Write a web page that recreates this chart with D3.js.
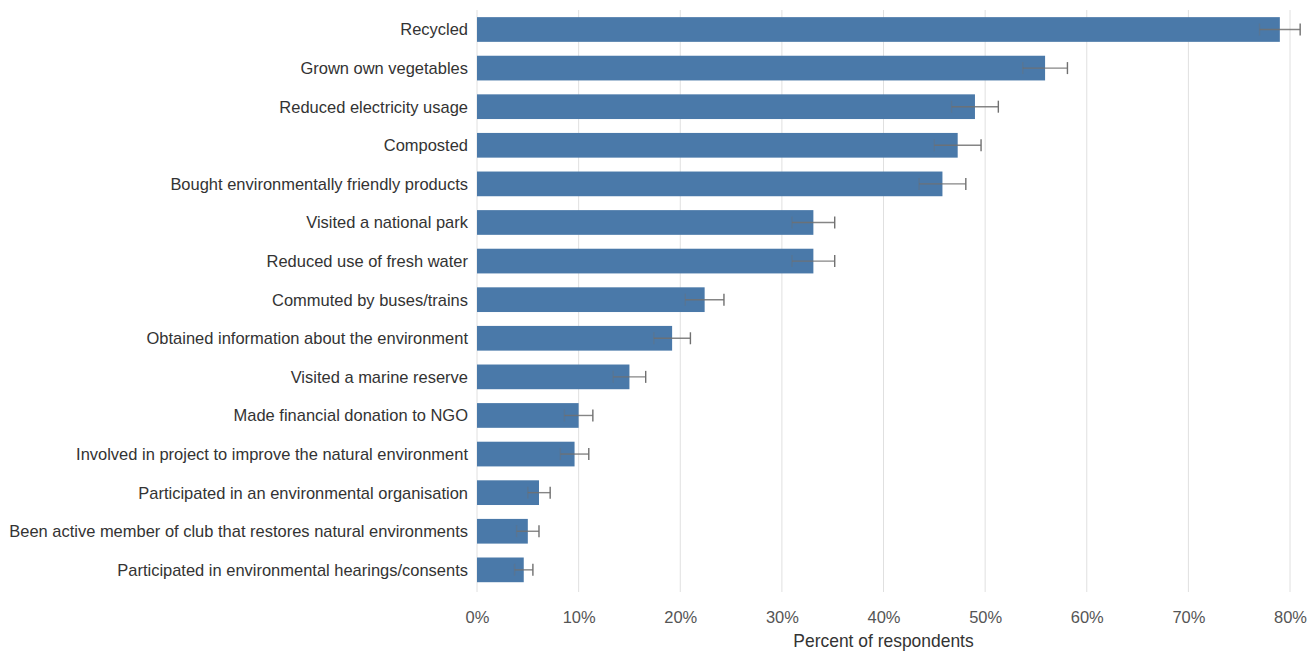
<!DOCTYPE html>
<html><head><meta charset="utf-8">
<script src="https://cdn.jsdelivr.net/npm/d3@7"></script>
<style>
body{margin:0;background:#fff;}
text{font-family:"Liberation Sans Narrow","Arial Narrow","Liberation Sans",Arial,sans-serif;}
</style></head>
<body><svg id="c" width="1311" height="652"></svg>
<script>
const categories = ["Recycled","Grown own vegetables","Reduced electricity usage","Composted","Bought environmentally friendly products","Visited a national park","Reduced use of fresh water","Commuted by buses/trains","Obtained information about the environment","Visited a marine reserve","Made financial donation to NGO","Involved in project to improve the natural environment","Participated in an environmental organisation","Been active member of club that restores natural environments","Participated in environmental hearings/consents"];
const values = [79.0,55.9,49.0,47.3,45.8,33.1,33.1,22.4,19.2,15.0,10.0,9.6,6.1,5.0,4.6];
const errors = [2.0,2.2,2.3,2.3,2.3,2.1,2.1,1.9,1.8,1.6,1.4,1.4,1.1,1.1,0.9];
const ticks = [0,10,20,30,40,50,60,70,80];
const xTitle = "Percent of respondents";

const svg = d3.select("#c");
const x = d3.scaleLinear().domain([0,80]).range([477,1290]);
const y = d3.scaleBand().domain(categories).range([3.25,596.1]).paddingInner(0.36).paddingOuter(0.36);

// gridlines
svg.append("g").selectAll("line").data(ticks).join("line")
  .attr("x1",d=>x(d)).attr("x2",d=>x(d)).attr("y1",10).attr("y2",592)
  .attr("stroke","#e0e0e0").attr("stroke-width",1);

// bars
svg.append("g").selectAll("rect").data(values).join("rect")
  .attr("x",x(0)).attr("y",(d,i)=>y(categories[i]))
  .attr("width",d=>x(d)-x(0)).attr("height",y.bandwidth())
  .attr("fill","#4a79a9");

// error bars
const eg = svg.append("g").attr("stroke","#707070").attr("stroke-width",1.4);
values.forEach((v,i)=>{
  const cy = y(categories[i])+y.bandwidth()/2;
  const lo = x(v-errors[i]), hi = x(v+errors[i]);
  eg.append("line").attr("x1",lo).attr("x2",hi).attr("y1",cy).attr("y2",cy).attr("stroke-opacity",0.85);
  eg.append("line").attr("x1",hi).attr("x2",hi).attr("y1",cy-6).attr("y2",cy+6);
  eg.append("line").attr("x1",lo).attr("x2",lo).attr("y1",cy-6).attr("y2",cy+6).attr("stroke-opacity",0.35);
});

// y labels (condensed horizontally to mimic a narrow face)
const lab = svg.append("g").selectAll("text").data(categories).join("text")
  .attr("x",0).attr("y",0).attr("dy","0.35em")
  .attr("text-anchor","end").attr("font-size",17).attr("fill","#333")
  .text(d=>d);
let maxW = 0;
lab.each(function(){ maxW = Math.max(maxW, this.getComputedTextLength()); });
const s = Math.min(1, 459/maxW);
lab.attr("transform",d=>`translate(468,${y(d)+y.bandwidth()/2}) scale(${s},1)`);

// x axis
const xAxis = d3.axisBottom(x).tickValues(ticks).tickFormat(d=>d+"%").tickSize(0).tickPadding(0);
const ax = svg.append("g").attr("transform","translate(0,611)").call(xAxis);
ax.select(".domain").remove();
ax.selectAll("text").attr("font-size",17).attr("fill","#555")
  .attr("transform",`scale(${Math.max(s,0.85)},1)`)
  .style("font-family",'"Liberation Sans Narrow","Arial Narrow","Liberation Sans",sans-serif');

svg.append("text").attr("x",0).attr("y",0).attr("text-anchor","middle")
  .attr("transform",`translate(${x(40)},647) scale(${Math.max(s,0.85)},1)`)
  .attr("font-size",18).attr("fill","#333").text(xTitle);
</script></body></html>
